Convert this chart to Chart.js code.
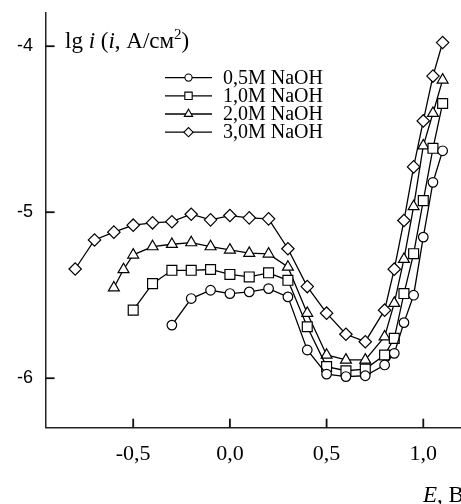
<!DOCTYPE html>
<html>
<head>
<meta charset="utf-8">
<script src="https://cdn.jsdelivr.net/npm/chart.js@4"></script>
<style>
    body { margin: 0; background: #fff; }
    #wrap { width: 461px; height: 504px; }
</style>
</head>
<body>
<div id="wrap"><canvas id="chart" width="461" height="504"></canvas></div>
<script>
// series labels
const seriesNames = ['0,5M NaOH', '1,0M NaOH', '2,0M NaOH', '3,0M NaOH'];

// E, V
const e05 = [-0.3, -0.2, -0.1, 0, 0.1, 0.2, 0.3, 0.4, 0.5, 0.6, 0.7, 0.8, 0.85, 0.9, 0.95, 1.0, 1.05, 1.1];
const e10 = [-0.5, -0.4, -0.3, -0.2, -0.1, 0, 0.1, 0.2, 0.3, 0.4, 0.5, 0.6, 0.7, 0.8, 0.85, 0.9, 0.95, 1.0, 1.05, 1.1];
const e20 = [-0.6, -0.55, -0.5, -0.4, -0.3, -0.2, -0.1, 0, 0.1, 0.2, 0.3, 0.4, 0.5, 0.6, 0.7, 0.8, 0.85, 0.9, 0.95, 1.0, 1.05, 1.1];
const e30 = [-0.8, -0.7, -0.6, -0.5, -0.4, -0.3, -0.2, -0.1, 0, 0.1, 0.2, 0.3, 0.4, 0.5, 0.6, 0.7, 0.8, 0.85, 0.9, 0.95, 1.0, 1.05, 1.1];

// lg i
const lg05 = [-5.68, -5.52, -5.47, -5.49, -5.48, -5.46, -5.51, -5.83, -5.975, -5.99, -5.985, -5.92, -5.85, -5.665, -5.50, -5.15, -4.82, -4.63];
const lg10 = [-5.59, -5.43, -5.35, -5.35, -5.345, -5.375, -5.39, -5.365, -5.41, -5.69, -5.93, -5.955, -5.945, -5.86, -5.76, -5.49, -5.25, -4.93, -4.615, -4.345];
const lg20 = [-5.455, -5.345, -5.257, -5.207, -5.193, -5.183, -5.207, -5.227, -5.247, -5.251, -5.33, -5.608, -5.86, -5.89, -5.89, -5.75, -5.548, -5.283, -4.966, -4.6, -4.404, -4.203];
const lg30 = [-5.342, -5.167, -5.12, -5.078, -5.064, -5.057, -5.012, -5.046, -5.02, -5.034, -5.04, -5.22, -5.448, -5.608, -5.735, -5.78, -5.59, -5.343, -5.05, -4.727, -4.45, -4.18, -3.978];

const xTicks = [-0.5, 0, 0.5, 1.0];
const yTicks = [-6, -5, -4];

const markers = ['circle', 'rect', 'triangle', 'rectRot'];
const markerSize = [4.8, 7, 6.3, 6.2];

function pts(xs, ys) {
    let out = [];
    for (let i = 0; i < xs.length; i++) {
        out.push({x: xs[i], y: ys[i]});
    }
    return out;
}

const allX = [e05, e10, e20, e30];
const allY = [lg05, lg10, lg20, lg30];

let datasets = [];
for (let i = 0; i < seriesNames.length; i++) {
    datasets.push({
        label: seriesNames[i],
        data: pts(allX[i], allY[i]),
        borderColor: '#000',
        borderWidth: 1.3,
        pointStyle: markers[i],
        pointRadius: markerSize[i],
        pointBorderWidth: 1.2,
        pointBackgroundColor: '#fff',
        pointBorderColor: '#000',
        tension: 0
    });
}

// inward tick marks, legend with a line through each marker, axis titles
const decorations = {
    id: 'decorations',
    afterDraw(chart) {
        const ctx = chart.ctx;
        const xs = chart.scales.x;
        const ys = chart.scales.y;
        const left = ys.right;
        const bottom = xs.top;
        ctx.save();

        // ticks pointing into the plot
        ctx.fillStyle = '#111';
        xTicks.forEach(v => {
            const px = xs.getPixelForValue(v);
            ctx.fillRect(px - 0.9, bottom - 9, 1.8, 9);
        });
        yTicks.forEach(v => {
            const py = ys.getPixelForValue(v);
            ctx.fillRect(left, py - 0.9, 9, 1.8);
        });

        // legend
        ctx.strokeStyle = '#000';
        const rows = [77.6, 95.8, 114, 132.2];
        const legendSize = [3.6, 5.2, 4.8, 4.6];
        ctx.font = '20px "Liberation Serif"';
        ctx.textBaseline = 'middle';
        ctx.textAlign = 'left';
        for (let i = 0; i < seriesNames.length; i++) {
            ctx.lineWidth = 1.3;
            ctx.beginPath();
            ctx.moveTo(165, rows[i]);
            ctx.lineTo(212, rows[i]);
            ctx.stroke();
            ctx.fillStyle = '#fff';
            ctx.lineWidth = 1.1;
            Chart.helpers.drawPoint(ctx, {pointStyle: markers[i], radius: legendSize[i], borderWidth: 1.1, rotation: 0}, 188.5, rows[i]);
            ctx.fillStyle = '#000';
            ctx.fillText(seriesNames[i], 223, rows[i] + 1);
        }

        // y axis title: lg i (i, A/см2)
        ctx.textBaseline = 'alphabetic';
        let x = 65;
        const base = 48;
        const parts = [
            ['lg ', 'normal', 23, 0],
            ['i', 'italic', 23, 0],
            [' (', 'normal', 23, 0],
            ['i', 'italic', 23, 0],
            [', А/см', 'normal', 23, 0],
            ['2', 'normal', 15, -9],
            [')', 'normal', 23, 0]
        ];
        for (const p of parts) {
            ctx.font = p[1] + ' ' + p[2] + 'px "Liberation Serif"';
            ctx.fillText(p[0], x, base + p[3]);
            x += ctx.measureText(p[0]).width;
        }

        // x axis title: E, В
        x = 423;
        ctx.font = 'italic 23px "Liberation Serif"';
        ctx.fillText('E', x, 502);
        x += ctx.measureText('E').width;
        ctx.font = 'normal 23px "Liberation Serif"';
        ctx.fillText(', В', x, 502);
        ctx.restore();
    }
};

const config = {
    type: 'line',
    data: {datasets: datasets},
    options: {
        responsive: false,
        animation: false,
        devicePixelRatio: 1,
        layout: {autoPadding: false, padding: {top: 13, right: 0, left: 0, bottom: 0}},
        plugins: {legend: {display: false}, tooltip: {enabled: false}},
        scales: {
            x: {
                type: 'linear',
                min: -0.953,
                max: 1.195,
                afterBuildTicks: (scale) => { scale.ticks = xTicks.map(v => ({value: v})); },
                afterFit: (scale) => {
                    scale.height = 76.3;
                    scale.paddingLeft = 0;
                    scale.paddingRight = 0;
                },
                border: {color: '#222', width: 1.5},
                grid: {drawOnChartArea: false, drawTicks: false},
                ticks: {
                    padding: 13,
                    color: '#000',
                    font: {family: '"Liberation Serif"', size: 22},
                    callback: (v) => v.toFixed(1).replace('.', ',')
                }
            },
            y: {
                type: 'linear',
                min: -6.298,
                max: -3.8,
                afterBuildTicks: (scale) => { scale.ticks = yTicks.map(v => ({value: v})); },
                afterFit: (scale) => {
                    scale.width = 45.6;
                    scale.paddingTop = 0;
                    scale.paddingBottom = 0;
                },
                border: {color: '#222', width: 1.5},
                grid: {drawOnChartArea: false, drawTicks: false},
                ticks: {
                    padding: 12.6,
                    color: '#000',
                    font: {family: '"Liberation Sans"', size: 18},
                    callback: (v) => String(v)
                }
            }
        }
    },
    plugins: [decorations]
};

new Chart(document.getElementById('chart').getContext('2d'), config);
</script>
</body>
</html>
